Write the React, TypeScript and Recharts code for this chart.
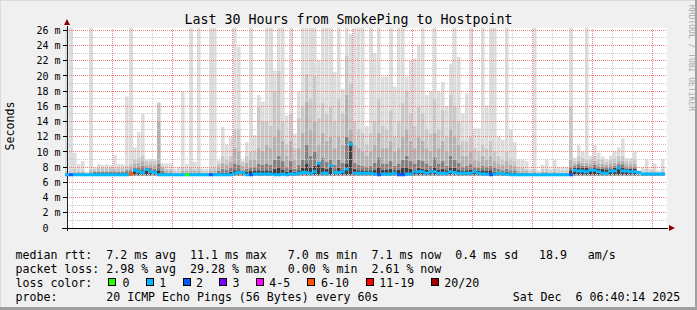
import React from 'react';
import { ComposedChart, Bar, XAxis, YAxis, CartesianGrid, ReferenceLine, ReferenceDot, Scatter } from 'recharts';

// time of first bin centre in minutes after Fri 00:00, and bin width (minutes)
const binStart = 44;
const binStep = 12;

// top of the lightest smoke (max ping), ms
const maxV = [
  30, 30, 9.9, 8.4, 8.8, 7.4, 30, 8.0, 8.4, 8.3, 8.4, 8.3, 9.6, 8.4, 8.4, 17.3, 30, 10.6, 12.6, 15.0, 9.0, 9.0, 9.0, 16.5, 8.5,
  8.5, 8.5, 7.8, 8.0, 18.0, 8.4, 30, 8.7, 30, 7.8, 7.8, 30, 30, 8.9, 13.3, 11.0, 12.0, 30, 23.8, 8.9, 11.3, 30, 12.2, 17.5, 16.6,
  30, 30, 20.7, 30, 30, 14.8, 30, 12.4, 18.0, 30, 30, 30, 30, 22.0, 30, 30, 30, 20.5, 30, 18.3, 30, 25.5, 30, 30, 30,
  13.4, 30, 23.0, 30, 19.9, 19.9, 30, 18.6, 30, 30, 19.9, 22.0, 22.3, 24.0, 30, 17.5, 18.0, 30, 17.9, 19.2, 16.0, 21.6, 30, 22.5, 15.1,
  17.7, 30, 13.1, 13.1, 30, 16.1, 30, 30, 12.0, 11.6, 30, 12.9, 11.3, 9.0, 9.0, 8.8, 7.8, 30, 7.6, 8.3, 9.0, 7.8, 9.0, 8.0, 8.0,
  8.0, 30, 9.2, 10.9, 10.0, 30, 9.5, 10.9, 9.9, 9.4, 9.0, 9.5, 10.0, 10.6, 11.8, 9.2, 9.2, 10.0, 7.6, 8.0, 9.0, 7.8, 8.5, 7.6, 9.0,
];

const hiV = [
  7.5, 7.6, 7.8, 7.6, 7.6, 7.3, 7.8, 7.8, 7.9, 7.9, 7.9, 7.9, 8.0, 7.9, 7.9, 8.2, 8.5, 9.0, 9.2, 9.5, 8.8, 8.8, 8.8, 16.5, 8.2,
  7.8, 7.8, 7.5, 7.6, 8.0, 7.8, 8.0, 7.8, 8.0, 7.5, 7.5, 8.0, 8.0, 8.5, 9.5, 9.0, 9.5, 13.0, 13.1, 8.7, 9.5, 10.0, 10.0, 16.0, 14.0,
  14.0, 13.5, 18.0, 20.7, 14.0, 11.0, 15.0, 10.5, 14.5, 16.0, 20.3, 17.0, 20.0, 14.5, 16.5, 15.0, 16.0, 14.0, 17.0, 15.0, 22.7, 19.0, 14.0, 13.0, 12.5,
  11.0, 12.5, 14.0, 17.0, 13.5, 13.0, 15.5, 12.0, 14.0, 16.5, 18.0, 15.0, 13.5, 16.0, 15.0, 13.0, 12.5, 17.0, 13.0, 15.5, 12.0, 17.5, 16.0, 14.0, 11.5,
  11.5, 12.0, 10.5, 10.0, 11.0, 10.5, 11.5, 10.0, 9.5, 9.0, 10.0, 9.0, 8.8, 8.0, 8.0, 7.8, 7.5, 7.8, 7.4, 7.8, 7.8, 7.5, 7.8, 7.6, 7.6,
  7.6, 16.1, 8.8, 9.5, 9.2, 9.0, 9.0, 9.5, 9.0, 9.0, 8.7, 9.0, 9.2, 9.5, 9.5, 8.8, 8.8, 9.0, 7.4, 7.6, 7.8, 7.5, 7.6, 7.4, 7.8,
];

const midV = [
  7.3, 7.3, 7.4, 7.4, 7.4, 7.2, 7.5, 7.6, 7.6, 7.6, 7.6, 7.6, 7.7, 7.6, 7.6, 7.8, 8.0, 8.5, 8.6, 8.8, 8.3, 8.4, 8.3, 14.0, 7.9,
  7.5, 7.5, 7.3, 7.3, 7.5, 7.5, 7.6, 7.5, 7.6, 7.3, 7.3, 7.6, 7.6, 8.0, 8.6, 8.4, 8.7, 10.5, 10.0, 8.2, 8.6, 9.0, 9.0, 10.5, 10.0,
  11.0, 10.5, 12.0, 13.0, 11.5, 9.5, 11.5, 9.0, 10.5, 12.5, 16.6, 13.0, 14.0, 11.0, 12.5, 11.5, 12.0, 10.5, 12.0, 11.0, 17.5, 13.0, 11.0, 10.5, 10.0,
  9.5, 10.0, 11.0, 12.5, 10.5, 10.5, 11.5, 10.0, 10.5, 12.0, 13.0, 11.5, 10.5, 12.0, 11.5, 10.5, 10.0, 12.5, 10.5, 11.5, 10.0, 13.0, 12.0, 11.0, 9.5,
  9.5, 10.0, 9.0, 8.8, 9.5, 9.0, 9.5, 8.8, 8.5, 8.3, 8.8, 8.3, 8.2, 7.6, 7.6, 7.5, 7.3, 7.4, 7.2, 7.4, 7.4, 7.3, 7.4, 7.3, 7.3,
  7.3, 9.0, 8.5, 8.8, 8.6, 8.6, 8.5, 8.8, 8.5, 8.5, 8.3, 8.5, 8.6, 8.8, 8.8, 8.4, 8.4, 8.5, 7.2, 7.3, 7.4, 7.3, 7.3, 7.2, 7.4,
];

const darkV = [
  7.1, 7.1, 7.2, 7.2, 7.2, 7.1, 7.3, 7.4, 7.4, 7.4, 7.4, 7.4, 7.4, 7.4, 7.4, 7.5, 7.6, 7.9, 8.0, 8.2, 7.9, 7.9, 7.8, 8.5, 7.5,
  7.2, 7.2, 7.1, 7.1, 7.2, 7.2, 7.3, 7.2, 7.3, 7.1, 7.1, 7.3, 7.3, 7.5, 7.8, 7.7, 7.9, 8.5, 8.3, 7.6, 7.8, 8.0, 8.0, 8.5, 8.3,
  8.5, 8.3, 9.0, 9.5, 8.8, 8.0, 8.8, 7.8, 8.3, 9.0, 11.0, 9.5, 10.0, 8.6, 9.2, 8.7, 9.0, 8.3, 9.0, 8.6, 12.0, 11.5, 8.6, 8.3, 8.2,
  8.0, 8.2, 8.6, 9.3, 8.5, 8.5, 8.8, 8.2, 8.5, 9.0, 9.5, 8.8, 8.5, 9.0, 8.8, 8.5, 8.2, 9.3, 8.5, 8.8, 8.2, 9.5, 9.0, 8.6, 8.0,
  8.2, 8.4, 8.0, 7.9, 8.2, 8.0, 8.2, 7.9, 7.8, 7.6, 7.8, 7.6, 7.6, 7.3, 7.3, 7.3, 7.1, 7.2, 7.1, 7.2, 7.2, 7.1, 7.2, 7.1, 7.1,
  7.1, 8.0, 8.2, 8.4, 8.2, 8.2, 8.1, 8.3, 8.1, 8.1, 8.0, 8.1, 8.2, 8.4, 8.4, 8.0, 8.0, 8.1, 7.1, 7.1, 7.2, 7.1, 7.1, 7.1, 7.2,
];

const coreV = [
  7.0, 7.0, 7.05, 7.05, 7.05, 7.0, 7.1, 7.2, 7.2, 7.2, 7.2, 7.2, 7.2, 7.2, 7.2, 7.2, 7.3, 7.5, 7.6, 7.6, 7.5, 7.5, 7.5, 7.6, 7.2,
  7.0, 7.0, 7.0, 7.0, 7.0, 7.0, 7.1, 7.0, 7.1, 7.0, 7.0, 7.1, 7.1, 7.2, 7.3, 7.3, 7.4, 7.6, 7.6, 7.3, 7.4, 7.5, 7.5, 7.6, 7.5,
  7.6, 7.5, 7.8, 8.0, 7.7, 7.4, 7.7, 7.4, 7.6, 7.9, 8.5, 8.0, 8.2, 8.5, 7.9, 7.8, 8.2, 7.6, 7.9, 7.7, 8.5, 11.0, 7.8, 7.6, 7.6,
  7.5, 7.6, 7.7, 8.0, 7.7, 7.7, 7.8, 7.6, 7.7, 7.9, 8.0, 7.8, 7.7, 7.9, 7.8, 7.7, 7.6, 8.0, 7.7, 7.8, 7.6, 8.0, 7.9, 7.7, 7.5,
  7.6, 7.7, 7.5, 7.5, 7.6, 7.5, 7.6, 7.4, 7.4, 7.3, 7.4, 7.3, 7.3, 7.1, 7.1, 7.1, 7.0, 7.0, 7.05, 7.0, 7.0, 7.0, 7.0, 7.0, 7.0,
  7.0, 7.6, 7.9, 8.0, 7.9, 7.9, 7.8, 8.0, 7.8, 7.8, 7.7, 7.8, 7.9, 8.1, 8.0, 7.8, 7.8, 7.8, 7.0, 7.05, 7.05, 7.0, 7.0, 7.0, 7.05,
];

// median rtt, ms
const medV = [
  7.0, 7.0, 7.0, 7.0, 7.0, 7.0, 7.0, 7.0, 7.0, 7.0, 7.0, 7.0, 7.0, 7.0, 7.0, 7.0, 7.1, 7.6, 7.4, 7.3, 7.7, 7.4, 7.3, 7.0, 7.0,
  7.0, 7.0, 7.0, 7.0, 7.0, 7.0, 7.0, 7.0, 7.0, 7.0, 7.0, 7.0, 7.0, 7.0, 7.0, 7.0, 7.0, 7.2, 7.3, 7.3, 7.0, 7.0, 7.1, 7.1, 7.1,
  7.1, 7.1, 7.0, 7.0, 7.1, 7.0, 7.1, 7.1, 7.2, 7.3, 7.3, 7.2, 7.4, 8.5, 7.2, 7.2, 8.2, 7.3, 7.3, 7.4, 7.75, 11.0, 7.2, 7.2, 7.2,
  7.2, 7.2, 7.1, 7.0, 7.1, 7.1, 7.1, 7.2, 7.0, 7.0, 7.1, 7.1, 7.4, 7.4, 7.4, 7.2, 7.4, 7.4, 7.2, 7.2, 7.2, 7.4, 7.3, 7.2, 7.2,
  7.2, 7.2, 7.4, 7.2, 7.1, 7.1, 7.0, 7.1, 7.2, 7.1, 7.1, 7.0, 7.0, 7.0, 7.0, 7.0, 7.0, 7.0, 7.0, 7.0, 7.0, 7.0, 7.0, 7.0, 7.0,
  7.0, 7.0, 7.6, 7.5, 7.5, 7.4, 7.6, 7.6, 7.4, 7.2, 7.2, 7.5, 7.5, 7.9, 7.5, 7.5, 7.4, 7.4, 7.3, 7.1, 7.1, 7.1, 7.1, 7.1, 7.1,
];

// loss class per bin (index into lossLabels)
const lossV = [
  1, 2, 1, 1, 1, 1, 1, 1, 1, 1, 1, 1, 1, 1, 1, 1, 5, 1, 1, 1, 1, 1, 1, 1, 1,
  1, 1, 1, 1, 1, 0, 1, 1, 1, 1, 1, 2, 1, 1, 1, 1, 1, 1, 1, 1, 1, 2, 1, 1, 1,
  1, 1, 1, 1, 1, 1, 1, 1, 1, 1, 1, 1, 1, 1, 1, 1, 1, 1, 1, 1, 1, 1, 1, 1, 1,
  1, 1, 1, 2, 1, 1, 1, 1, 2, 2, 1, 1, 1, 1, 1, 1, 1, 1, 1, 1, 1, 1, 1, 1, 1,
  1, 1, 1, 1, 1, 1, 2, 1, 1, 1, 1, 1, 1, 1, 1, 1, 1, 1, 1, 1, 1, 1, 1, 1, 1,
  1, 2, 1, 1, 1, 1, 1, 1, 1, 1, 1, 1, 1, 1, 1, 1, 1, 1, 1, 1, 1, 1, 1, 1, 1,
];

const lossLabels = ['0', '1', '2', '3', '4-5', '6-10', '11-19', '20/20'];
const lossColors = ['#26ff00', '#00b8ff', '#0059ff', '#7e00ff', '#ff00ff', '#ff5500', '#ff0000', '#a10000'];
const lossBoxX = [108, 146, 183, 219, 256, 307, 366, 431];
const lossTextX = [122.6, 159.3, 196, 232.6, 269.3, 321, 379.3, 444.3];

const smokeFloor = 6.9;
const timeDomain = [44, 1844];
const yDomain = [0, 26.3];

const hourTicks = [60, 120, 180, 240, 300, 360, 420, 480, 540, 600, 660, 720, 780, 840, 900, 960, 1020, 1080, 1140, 1200, 1260, 1320, 1380, 1440, 1500, 1560, 1620, 1680, 1740, 1800];
const majorTimes = [180, 360, 540, 720, 900, 1080, 1260, 1440, 1620, 1800];
const labelTimes = [360, 720, 1080, 1440, 1800];
const labelTexts = ['Fri 06:00', 'Fri 12:00', 'Fri 18:00', 'Sat 00:00', 'Sat 06:00'];
const yTicks = [0, 2, 4, 6, 8, 10, 12, 14, 16, 18, 20, 22, 24, 26];
const yMinor = [1, 3, 5, 7, 9, 11, 13, 15, 17, 19, 21, 23, 25];

const legendLine1 = 'median rtt:  7.2 ms avg  11.1 ms max   7.0 ms min  7.1 ms now  0.4 ms sd   18.9   am/s';
const legendLine2 = 'packet loss: 2.98 % avg  29.28 % max   0.00 % min  2.61 % now';
const probeLine = 'probe:       20 ICMP Echo Pings (56 Bytes) every 60s';
const dateText = 'Sat Dec  6 06:40:14 2025';

const data = maxV.map((mx, i) => ({
  t: binStart + i * binStep,
  floor: smokeFloor,
  core: Math.max(0, coreV[i] - smokeFloor),
  dark: Math.max(0, darkV[i] - coreV[i]),
  mid: Math.max(0, midV[i] - darkV[i]),
  hi: Math.max(0, hiV[i] - midV[i]),
  top: Math.max(0, mx - hiV[i]),
  med: medV[i],
  loss: lossV[i],
}));

const MONO = '"DejaVu Sans Mono", monospace';

const YTick = (p: any) => {
  const v = p.payload.value;
  return (
    <g>
      <line x1={p.x - 4} x2={p.x} y1={p.y} y2={p.y} stroke="#000" shapeRendering="crispEdges" />
      <text x={v === 0 ? p.x - 18.5 : p.x - 6.5} y={p.y} dy="0.36em" textAnchor="end" fontFamily={MONO} fontSize={10} fill="#000">
        {v === 0 ? '0' : `${v} m`}
      </text>
    </g>
  );
};

const XTick = (p: any) => {
  const v = p.payload.value;
  const li = labelTimes.indexOf(v);
  return (
    <g>
      <line x1={p.x} x2={p.x} y1={p.y} y2={p.y + 2} stroke="#000" shapeRendering="crispEdges" />
      {li >= 0 && (
        <text x={p.x} y={p.y + 13} textAnchor="middle" fontFamily={MONO} fontSize={10} fill="#000">
          {labelTexts[li]}
        </text>
      )}
    </g>
  );
};

const MedianMark = (p: any) => {
  if (p.cx == null || p.cy == null) return null;
  return <rect x={p.cx - 2} y={p.cy - 1.5} width={4} height={3} fill={lossColors[p.payload.loss]} />;
};

const ArrowRight = (p: any) => (
  <polygon points={`${p.cx + 1},${p.cy - 3} ${p.cx + 7},${p.cy} ${p.cx + 1},${p.cy + 3}`} fill="#8b0000" />
);
const ArrowUp = (p: any) => (
  <polygon points={`${p.cx - 3},${p.cy - 1} ${p.cx},${p.cy - 7} ${p.cx + 3},${p.cy - 1}`} fill="#8b0000" />
);

const pre: any = { whiteSpace: 'pre' };

export default function App() {
  return (
    <div style={{ position: 'absolute', left: 0, top: 0, width: 697, height: 310, background: '#f0f0f0', overflow: 'hidden' }}>
      <ComposedChart width={697} height={310} data={data} margin={{ top: 28, right: 30, bottom: 82, left: 0 }} barGap={0} barCategoryGap={0}>
        <CartesianGrid fill="#ffffff" horizontal={false} vertical={false} stroke="none" />
        <XAxis
          dataKey="t"
          type="number"
          domain={timeDomain}
          ticks={hourTicks}
          interval={0}
          height={0}
          tickSize={0}
          tickMargin={0}
          axisLine={false}
          tickLine={false}
          tick={<XTick />}
        />
        <YAxis
          type="number"
          domain={yDomain}
          allowDataOverflow
          ticks={yTicks}
          interval={0}
          width={67}
          tickSize={0}
          tickMargin={0}
          axisLine={false}
          tickLine={false}
          tick={<YTick />}
        />
        <Bar dataKey="floor" stackId="s" fill="#000" fillOpacity={0} barSize={4} isAnimationActive={false} />
        <Bar dataKey="core" stackId="s" fill="#404040" barSize={4} isAnimationActive={false} />
        <Bar dataKey="dark" stackId="s" fill="#828282" barSize={4} isAnimationActive={false} />
        <Bar dataKey="mid" stackId="s" fill="#b2b2b2" barSize={4} isAnimationActive={false} />
        <Bar dataKey="hi" stackId="s" fill="#c9c9c9" barSize={4} isAnimationActive={false} />
        <Bar dataKey="top" stackId="s" fill="#dddddd" barSize={4} isAnimationActive={false} />
        {yMinor.map((v) => (
          <ReferenceLine key={'ym' + v} y={v} stroke="#c8c8c8" strokeDasharray="1 1" shapeRendering="crispEdges" />
        ))}
        {hourTicks.filter((t) => majorTimes.indexOf(t) < 0).map((t) => (
          <ReferenceLine key={'xm' + t} x={t} stroke="#c8c8c8" strokeDasharray="1 1" shapeRendering="crispEdges" />
        ))}
        {yTicks.filter((v) => v > 0).map((v) => (
          <ReferenceLine key={'yM' + v} y={v} stroke="#f08080" strokeDasharray="1 1" shapeRendering="crispEdges" />
        ))}
        {majorTimes.map((t) => (
          <ReferenceLine key={'xM' + t} x={t} stroke="#f08080" strokeDasharray="1 1" shapeRendering="crispEdges" />
        ))}
        <Scatter dataKey="med" shape={MedianMark} isAnimationActive={false} />
        <ReferenceLine segment={[{ x: 29, y: 0 }, { x: 1847, y: 0 }]} stroke="#000" ifOverflow="visible" shapeRendering="crispEdges" />
        <ReferenceLine segment={[{ x: 44, y: -0.35 }, { x: 44, y: 26.55 }]} stroke="#222" ifOverflow="visible" shapeRendering="crispEdges" />
        <ReferenceDot x={1847} y={0} ifOverflow="visible" shape={ArrowRight} />
        <ReferenceDot x={44} y={26.55} ifOverflow="visible" shape={ArrowUp} />
      </ComposedChart>
      <svg width={697} height={310} style={{ position: 'absolute', left: 0, top: 0, pointerEvents: 'none' }}>
        <rect x={0} y={0} width={697} height={1} fill="#dcdcdc" />
        <rect x={0} y={0} width={1} height={310} fill="#dcdcdc" />
        <rect x={0} y={307} width={697} height={3} fill="#9f9f9f" />
        <rect x={695} y={0} width={2} height={310} fill="#9f9f9f" />
        <text x={348.5} y={24} textAnchor="middle" fontFamily={MONO} fontSize={13.3} fill="#000">
          Last 30 Hours from SmokePing to Hostpoint
        </text>
        <text transform="translate(14,126) rotate(-90)" textAnchor="middle" fontFamily={MONO} fontSize={11.6} fill="#000">
          Seconds
        </text>
        <text transform="translate(688.5,5) rotate(90)" textAnchor="start" fontFamily={MONO} fontSize={8} fill="#a8a8a8">
          RRDTOOL / TOBI OETIKER
        </text>
        <text x={15.5} y={258.5} fontFamily={MONO} fontSize={11.6} fill="#000" xmlSpace="preserve" style={pre}>
          {legendLine1}
        </text>
        <text x={15.5} y={272.5} fontFamily={MONO} fontSize={11.6} fill="#000" xmlSpace="preserve" style={pre}>
          {legendLine2}
        </text>
        <text x={15.5} y={286.5} fontFamily={MONO} fontSize={11.6} fill="#000" xmlSpace="preserve" style={pre}>
          loss color:
        </text>
        {lossLabels.map((l, i) => (
          <g key={l}>
            <rect x={lossBoxX[i] + 0.5} y={278.5} width={7} height={7} fill={lossColors[i]} stroke="#000" strokeWidth={1} />
            <text x={lossTextX[i]} y={286.5} fontFamily={MONO} fontSize={11.6} fill="#000">
              {l}
            </text>
          </g>
        ))}
        <text x={15.5} y={300.5} fontFamily={MONO} fontSize={11.6} fill="#000" xmlSpace="preserve" style={pre}>
          {probeLine}
        </text>
        <text x={512.7} y={300.5} fontFamily={MONO} fontSize={11.6} fill="#000" xmlSpace="preserve" style={pre}>
          {dateText}
        </text>
      </svg>
    </div>
  );
}
